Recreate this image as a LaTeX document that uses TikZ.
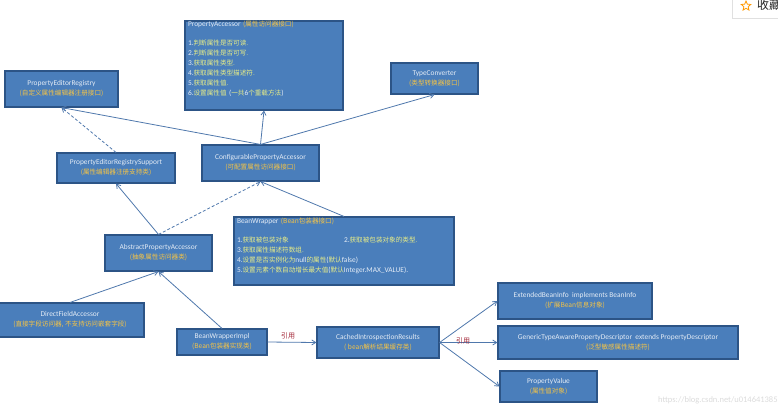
\documentclass[tikz,border=0pt]{standalone}
\usepackage{fontspec}
\usetikzlibrary{arrows.meta,shapes.geometric}
\setmainfont{Carlito}
\newfontfamily\cjkfont{Noto Sans CJK SC}
\definecolor{boxfill}{HTML}{4A7EBB}
\definecolor{boxedge}{HTML}{2C5486}
\definecolor{linkblue}{HTML}{4F78AC}
\definecolor{namewhite}{HTML}{E4ECF6}
\definecolor{noteorange}{HTML}{F6C445}
\definecolor{listyellow}{HTML}{E9EE86}
\definecolor{refred}{HTML}{A42A3A}
\newcommand{\zh}[1]{{\cjkfont\fontsize{6.6}{10}\selectfont #1}}
\newcommand{\remark}[1]{\textcolor{noteorange}{\zh{#1}}}
\newcommand{\entry}[1]{\textcolor{listyellow}{\zh{#1}}}
\tikzset{
  umlbox/.style={draw=boxedge,fill=boxfill,line width=1.1pt,inner sep=0pt,align=center,
    text=namewhite,font=\fontsize{7.4}{10}\selectfont},
  listbox/.style={umlbox,align=left},
  realize/.style={draw=linkblue,line width=0.8pt,-{Straight Barb[length=4pt,width=5pt]}},
  implement/.style={realize,densely dashed},
  reflabel/.style={text=refred,font=\cjkfont\fontsize{7}{8}\selectfont,inner sep=0pt}
}
\begin{document}
\begin{tikzpicture}[x=1pt,y=-1pt]
\useasboundingbox (0,0) rectangle (778,407);
\clip (0,0) rectangle (778,407);

% Interfaces and classes
\node[listbox,minimum width=158pt,minimum height=89pt,text width=152pt] (pa) at (264,65.5)
  {PropertyAccessor \remark{(属性访问器接口)}\\[9pt]
   1.\entry{判断属性是否可读.}\\
   2.\entry{判断属性是否可写.}\\
   3.\entry{获取属性类型.}\\
   4.\entry{获取属性类型描述符.}\\
   5.\entry{获取属性值.}\\
   6.\entry{设置属性值} (\entry{一共}6\entry{个重载方法})\\[4pt]\mbox{}};
\node[umlbox,minimum width=113pt,minimum height=36pt] (per) at (61.5,89)
  {PropertyEditorRegistry\\\remark{(自定义属性编辑器注册接口)}};
\node[umlbox,minimum width=87pt,minimum height=31pt] (tc) at (434.5,78.5)
  {TypeConverter\\\remark{(类型转换器接口)}};
\node[umlbox,minimum width=118pt,minimum height=30pt] (pers) at (116,168)
  {PropertyEditorRegistrySupport\\\remark{(属性编辑器注册支持类)}};
\node[umlbox,minimum width=117pt,minimum height=36pt] (cfg) at (260.5,163)
  {ConfigurablePropertyAccessor\\\remark{(可配置属性访问器接口)}};
\node[listbox,minimum width=220pt,minimum height=68pt,text width=214pt] (bw) at (344,251)
  {BeanWrapper \remark{(Bean包装器接口)}\\[9pt]
   \makebox[107pt][l]{1.\entry{获取被包装对象}}2.\entry{获取被包装对象的类型.}\\
   3.\entry{获取属性描述符数组.}\\
   4.\entry{设置是否实例化为}null\entry{的属性}(\entry{默认}false)\\
   5.\entry{设置元素个数自动增长最大值}(\entry{默认}Integer.MAX\_VALUE).\\[1pt]\mbox{}};
\node[umlbox,minimum width=107pt,minimum height=36pt] (apa) at (158.5,253)
  {AbstractPropertyAccessor\\\remark{(抽象属性访问器类)}};
\node[umlbox,minimum width=148pt,minimum height=34pt] (dfa) at (70,320)
  {DirectFieldAccessor\\\remark{(直接字段访问器, 不支持访问嵌套字段)}};
\node[umlbox,minimum width=90pt,minimum height=26pt] (bwi) at (222,342)
  {BeanWrapperImpl\\\remark{(Bean包装器实现类)}};
\node[umlbox,minimum width=122pt,minimum height=31pt] (cir) at (378,342.5)
  {CachedIntrospectionResults\\\remark{( bean解析结果缓存类)}};
\node[umlbox,minimum width=154pt,minimum height=36pt] (ebi) at (575,301)
  {ExtendedBeanInfo\ \ implements BeanInfo\\\remark{(扩展Bean信息对象)}};
\node[umlbox,minimum width=240pt,minimum height=33pt] (gtd) at (618,342.5)
  {GenericTypeAwarePropertyDescriptor\ \ extends PropertyDescriptor\\\remark{(泛型敏感属性描述符)}};
\node[umlbox,minimum width=97pt,minimum height=31pt] (pv) at (548.5,386.5)
  {PropertyValue\\\remark{(属性值对象)}};

% Inheritance and implementation links
\draw[realize] (cfg.north) -- (pa.south);
\draw[realize] (cfg.north) -- (tc.south);
\draw[realize] (cfg.north) -- (per.south);
\draw[implement] (pers.north) -- (per.south);
\draw[realize] (apa.north) -- (pers.south);
\draw[implement] (apa.north) -- (cfg.south);
\draw[realize] (bw.north) -- (cfg.south);
\draw[realize] (dfa.north) -- (apa.south);
\draw[realize] (bwi.north) -- (apa.south);

% Reference links
\draw[realize] (bwi.east) -- (cir.west);
\draw[realize] (cir.east) -- (ebi.west);
\draw[realize] (cir.east) -- (gtd.west);
\draw[realize] (cir.east) -- (pv.west);
\node[reflabel] (ref1) at (288,336) {引用};
\node[reflabel] (ref2) at (463,341) {引用};

% Corner tab and site address
\node[draw=black!12,fill=white,line width=0.6pt,minimum width=60pt,minimum height=24pt,anchor=south west,inner sep=0pt] (tab) at (732,19) {};
\node[star,star points=5,star point ratio=2.2,draw=orange!80!yellow,fill=white,line width=0.8pt,minimum size=10pt,inner sep=0pt] (fav) at (746,6) {};
\node[anchor=west,inner sep=0pt,text=black!85,font=\cjkfont\fontsize{12}{12}\selectfont] (favtext) at (757,5) {收藏};
\node[anchor=west,inner sep=0pt,text=black!14,font=\fontsize{8.5}{10}\selectfont] (addr) at (658,400) {https://blog.csdn.net/u0146413857};
\end{tikzpicture}
\end{document}
